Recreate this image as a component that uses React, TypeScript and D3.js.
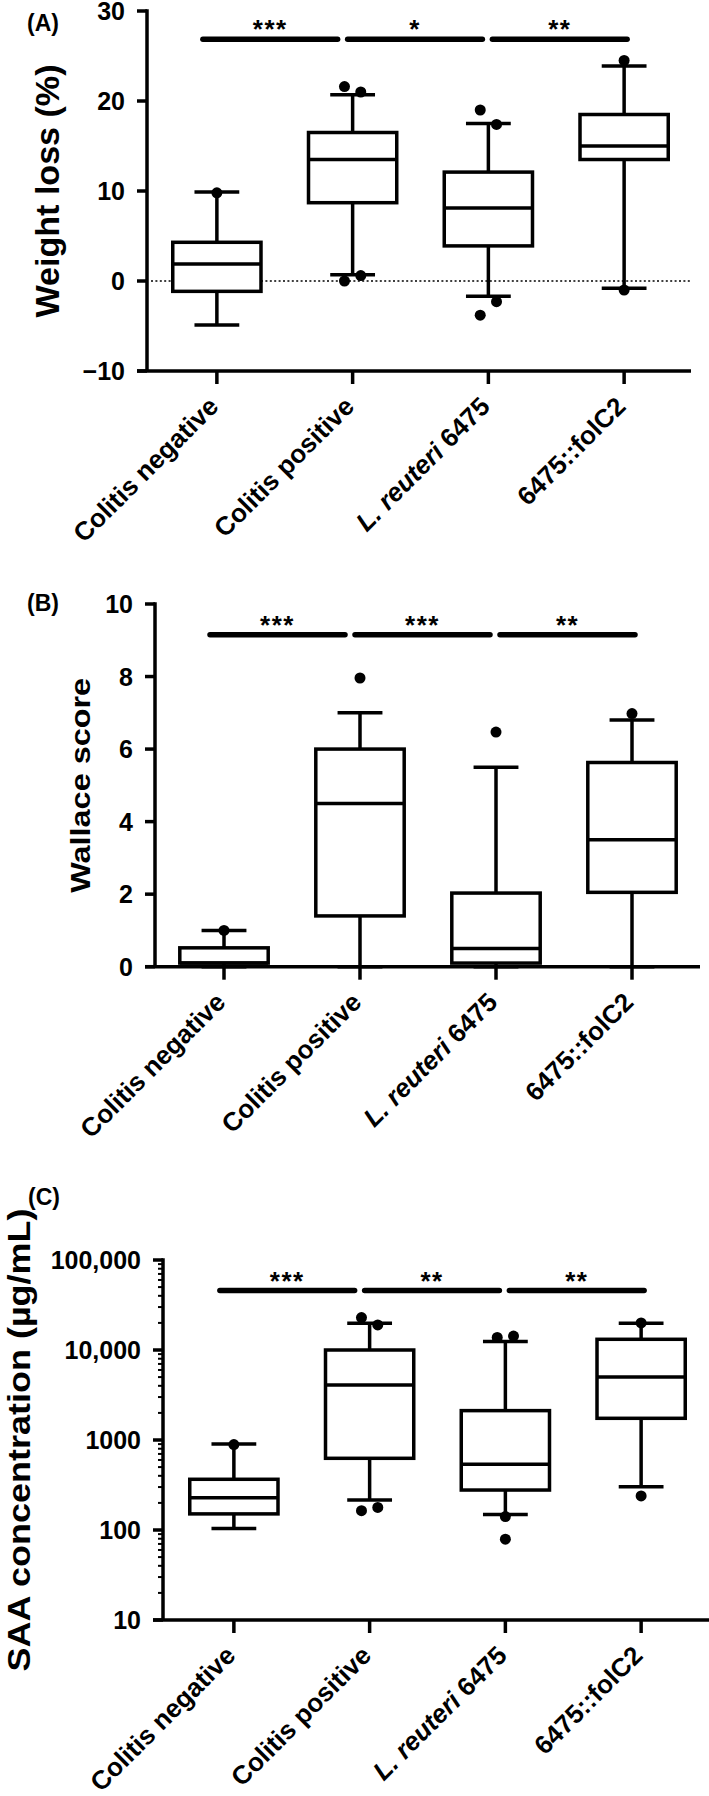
import React from "react";
import * as d3 from "d3";

const FONT = "'Liberation Sans', Arial, Helvetica, sans-serif";

const categories = ["Colitis negative", "Colitis positive", "L. reuteri 6475", "6475::folC2"];

// (A) Weight loss (%)
const wlMin = [-4.9, 0.7, -1.7, -0.8];
const wlQ1 = [-1.15, 8.7, 3.9, 13.5];
const wlMedian = [1.9, 13.5, 8.1, 15.0];
const wlQ3 = [4.3, 16.5, 12.1, 18.5];
const wlMax = [9.9, 20.7, 17.5, 23.9];
const wlOutliers = [
  { g: 0, v: 9.8, side: 0 },
  { g: 1, v: 21.6, side: -1 },
  { g: 1, v: 21.0, side: 1 },
  { g: 1, v: 0.0, side: -1 },
  { g: 1, v: 0.6, side: 1 },
  { g: 2, v: 19.0, side: -1 },
  { g: 2, v: 17.4, side: 1 },
  { g: 2, v: -2.3, side: 1 },
  { g: 2, v: -3.8, side: -1 },
  { g: 3, v: 24.5, side: 0 },
  { g: 3, v: -1.0, side: 0 },
];
const wlTicks = [-10, 0, 10, 20, 30];
const wlSig = ["***", "*", "**"];
const wlSigLevel = 26.85;

// (B) Wallace score
const wsMin = [0, 0, 0, 0];
const wsQ1 = [0.1, 1.4, 0.1, 2.05];
const wsMedian = [0.1, 4.5, 0.5, 3.5];
const wsQ3 = [0.52, 6.0, 2.03, 5.63];
const wsMax = [1.0, 7.0, 5.5, 6.8];
const wsOutliers = [
  { g: 0, v: 1.0, side: 0 },
  { g: 1, v: 7.96, side: 0 },
  { g: 2, v: 6.47, side: 0 },
  { g: 3, v: 6.98, side: 0 },
];
const wsTicks = [0, 2, 4, 6, 8, 10];
const wsSig = ["***", "***", "**"];
const wsSigLevel = 9.15;

// (C) SAA concentration (µg/mL)
const saaMin = [104, 215, 149, 303];
const saaQ1 = [151, 626, 278, 1742];
const saaMedian = [228, 4085, 537, 5000];
const saaQ3 = [366, 10000, 2120, 13150];
const saaMax = [903, 19800, 12400, 19800];
const saaOutliers = [
  { g: 0, v: 890, side: 0 },
  { g: 1, v: 22900, side: -1 },
  { g: 1, v: 19000, side: 1 },
  { g: 1, v: 164, side: -1 },
  { g: 1, v: 178, side: 1 },
  { g: 2, v: 13800, side: -1 },
  { g: 2, v: 14300, side: 1 },
  { g: 2, v: 141, side: 0 },
  { g: 2, v: 79, side: 0 },
  { g: 3, v: 20000, side: 0 },
  { g: 3, v: 239, side: 0 },
];
const saaTicks = [10, 100, 1000, 10000, 100000];
const saaTickLabels = ["10", "100", "1000", "10,000", "100,000"];
const saaSig = ["***", "**", "**"];
const saaSigLevel = 45700;

const LW = 3.5;

type PanelCfg = {
  letter: string;
  title: string;
  log: boolean;
  domain: [number, number];
  yRange: [number, number];
  xRange: [number, number];
  axisX: number;
  xEnd: number;
  ticks: number[];
  tickLabels?: string[];
  min: number[];
  q1: number[];
  median: number[];
  q3: number[];
  max: number[];
  outliers: { g: number; v: number; side: number }[];
  sig: string[];
  sigLevel: number;
  zeroLine: boolean;
  labelPos: [number, number];
  titleX: number;
  titleFs: number;
  titleLen: number;
};

function CatLabel({ label, x, y }: { label: string; x: number; y: number }) {
  const italic = label.startsWith("L. reuteri");
  return (
    <text
      x={x}
      y={y}
      transform={`rotate(-45 ${x} ${y})`}
      textAnchor="end"
      fontFamily={FONT}
      fontWeight="bold"
      fontSize={26}
      fill="#000"
    >
      {italic ? (
        <>
          <tspan fontStyle="italic">L. reuteri</tspan>
          <tspan>{label.slice("L. reuteri".length)}</tspan>
        </>
      ) : (
        label
      )}
    </text>
  );
}

function Panel({ c }: { c: PanelCfg }) {
  const y = c.log
    ? d3.scaleLog().domain(c.domain).range(c.yRange)
    : d3.scaleLinear().domain(c.domain).range(c.yRange);
  const x = d3.scalePoint<string>().domain(categories).range(c.xRange).padding(0.5);
  const step = x.step();
  const boxW = step * 0.65;
  const capW = step * 0.33;
  const jitter = step * 0.06;
  const yAxisBottom = c.yRange[0];
  const yAxisTop = c.yRange[1];
  const tcy = (yAxisTop + yAxisBottom) / 2;

  const minor: number[] = [];
  if (c.log) {
    for (let k = 1; k < 5; k++) for (let m = 2; m <= 9; m++) minor.push(m * Math.pow(10, k));
  }

  return (
    <g>
      <text x={c.labelPos[0]} y={c.labelPos[1]} fontFamily={FONT} fontWeight="bold" fontSize={23}>
        {c.letter}
      </text>
      <text
        x={c.titleX}
        y={tcy}
        transform={`rotate(-90 ${c.titleX} ${tcy})`}
        textAnchor="middle"
        fontFamily={FONT}
        fontWeight="bold"
        fontSize={c.titleFs}
        textLength={c.titleLen}
        lengthAdjust="spacingAndGlyphs"
      >
        {c.title}
      </text>
      {c.zeroLine && (
        <line
          x1={c.axisX + 4}
          x2={c.xEnd}
          y1={y(0)}
          y2={y(0)}
          stroke="#000"
          strokeWidth={1.6}
          strokeDasharray="2,2.4"
        />
      )}
      <line x1={c.axisX} x2={c.axisX} y1={yAxisTop - LW / 2} y2={yAxisBottom} stroke="#000" strokeWidth={LW} />
      {c.ticks.map((t, i) => (
        <g key={"t" + i}>
          <line x1={c.axisX - 10} x2={c.axisX} y1={y(t)} y2={y(t)} stroke="#000" strokeWidth={LW} />
          <text
            x={c.axisX - 22}
            y={y(t) + 9}
            textAnchor="end"
            fontFamily={FONT}
            fontWeight="bold"
            fontSize={25}
          >
            {c.tickLabels ? c.tickLabels[i] : d3.format("d")(t).replace("-", "\u2212")}
          </text>
        </g>
      ))}
      {minor.map((t, i) => (
        <line key={"m" + i} x1={c.axisX - 5} x2={c.axisX} y1={y(t)} y2={y(t)} stroke="#000" strokeWidth={2} />
      ))}
      <line x1={c.axisX - 10} x2={c.xEnd} y1={yAxisBottom} y2={yAxisBottom} stroke="#000" strokeWidth={LW} />
      {categories.map((cat) => (
        <g key={cat}>
          <line x1={x(cat)} x2={x(cat)} y1={yAxisBottom} y2={yAxisBottom + 13} stroke="#000" strokeWidth={LW} />
          <CatLabel label={cat} x={(x(cat) as number) + 3} y={yAxisBottom + 37} />
        </g>
      ))}
      {categories.map((cat, i) => {
        const cx = x(cat) as number;
        return (
          <g key={"b" + i} stroke="#000" strokeWidth={LW} fill="none">
            <line x1={cx} x2={cx} y1={y(c.max[i])} y2={y(c.q3[i])} />
            <line x1={cx} x2={cx} y1={y(c.q1[i])} y2={y(c.min[i])} />
            <line x1={cx - capW / 2} x2={cx + capW / 2} y1={y(c.max[i])} y2={y(c.max[i])} />
            <line x1={cx - capW / 2} x2={cx + capW / 2} y1={y(c.min[i])} y2={y(c.min[i])} />
            <rect x={cx - boxW / 2} y={y(c.q3[i])} width={boxW} height={y(c.q1[i]) - y(c.q3[i])} fill="#fff" />
            <line x1={cx - boxW / 2} x2={cx + boxW / 2} y1={y(c.median[i])} y2={y(c.median[i])} />
          </g>
        );
      })}
      {c.outliers.map((o, i) => (
        <circle key={"o" + i} cx={(x(categories[o.g]) as number) + o.side * jitter} cy={y(o.v)} r={5.5} fill="#000" />
      ))}
      {c.sig.map((s, i) => {
        const x1 = (x(categories[i]) as number) - 14 + 9 * i;
        const x2 = (x(categories[i + 1]) as number) - 15 + 9 * i;
        const yy = y(c.sigLevel);
        return (
          <g key={"s" + i}>
            <line x1={x1} x2={x2} y1={yy} y2={yy} stroke="#000" strokeWidth={5.5} strokeLinecap="round" />
            <text x={(x1 + x2) / 2} y={yy - 1} textAnchor="middle" fontFamily={FONT} fontWeight="bold" fontSize={26} letterSpacing={1.5}>
              {s}
            </text>
          </g>
        );
      })}
    </g>
  );
}

const panels: PanelCfg[] = [
  {
    letter: "(A)", title: "Weight loss (%)", log: false, domain: [-10, 30], yRange: [371, 11], xRange: [149, 692],
    axisX: 147, xEnd: 691, ticks: wlTicks, min: wlMin, q1: wlQ1, median: wlMedian, q3: wlQ3, max: wlMax,
    outliers: wlOutliers, sig: wlSig, sigLevel: wlSigLevel, zeroLine: true, labelPos: [27, 31],
    titleX: 59, titleFs: 34, titleLen: 253,
  },
  {
    letter: "(B)", title: "Wallace score", log: false, domain: [0, 10], yRange: [966.7, 604], xRange: [156, 700],
    axisX: 155, xEnd: 700, ticks: wsTicks, min: wsMin, q1: wsQ1, median: wsMedian, q3: wsQ3, max: wsMax,
    outliers: wsOutliers, sig: wsSig, sigLevel: wsSigLevel, zeroLine: false, labelPos: [27, 611],
    titleX: 90, titleFs: 28, titleLen: 215,
  },
  {
    letter: "(C)", title: "SAA  concentration (\u00b5g/mL)", log: true, domain: [10, 100000], yRange: [1620, 1260],
    xRange: [166, 709], axisX: 163, xEnd: 709, ticks: saaTicks, tickLabels: saaTickLabels, min: saaMin, q1: saaQ1,
    median: saaMedian, q3: saaQ3, max: saaMax, outliers: saaOutliers, sig: saaSig, sigLevel: saaSigLevel,
    zeroLine: false, labelPos: [28, 1205], titleX: 30, titleFs: 32, titleLen: 463,
  },
];

export default function App() {
  return (
    <svg width={709} height={1796} viewBox="0 0 709 1796" style={{ position: "absolute", left: 0, top: 0, background: "#fff" }}>
      <rect x={0} y={0} width={709} height={1796} fill="#fff" />
      {panels.map((p, i) => (
        <Panel key={i} c={p} />
      ))}
    </svg>
  );
}
